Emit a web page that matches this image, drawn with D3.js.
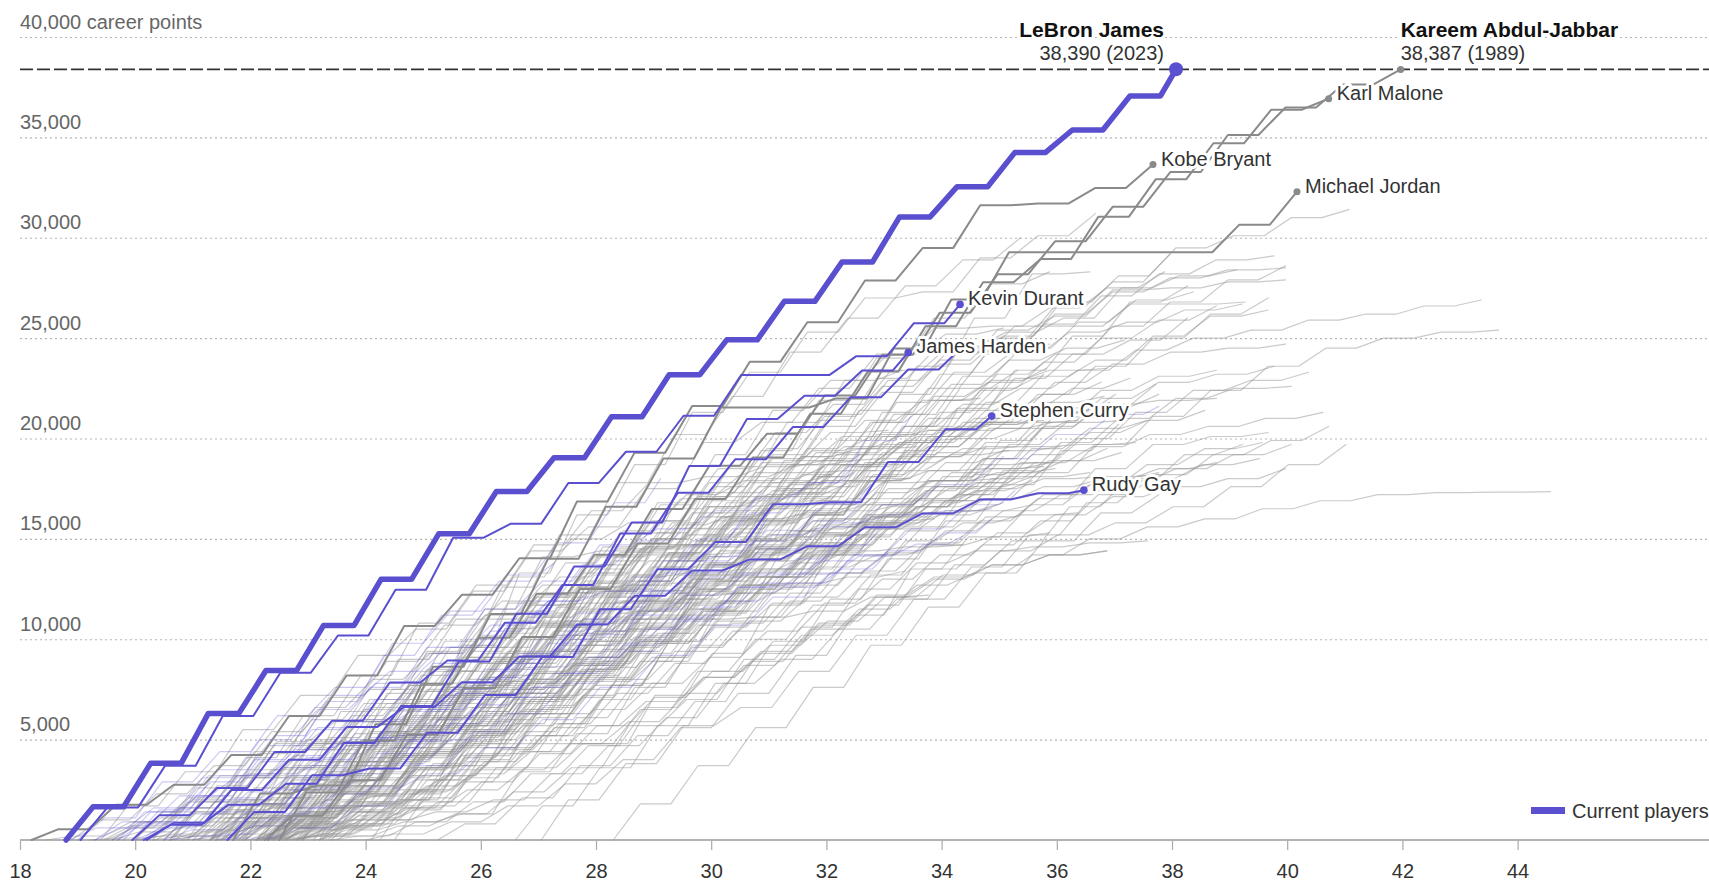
<!DOCTYPE html>
<html><head><meta charset="utf-8">
<script src="https://cdn.jsdelivr.net/npm/d3@7"></script>
<style>
body{margin:0;background:#fff;overflow:hidden}
text{font-family:"Liberation Sans",Arial,Helvetica,sans-serif}
</style>
</head><body>
<svg id="chart" width="1709" height="882"></svg>
<script>
// ---------- axis values ----------
const xTicks = [18,20,22,24,26,28,30,32,34,36,38,40,42,44];
const yTicks = [5000,10000,15000,20000,25000,30000,35000,40000];
const recordValue = 38387;

// ---------- highlighted players: start age (season opener), regular-season points per season ----------
const legendNames   = ["Kareem Abdul-Jabbar","Karl Malone","Kobe Bryant","Michael Jordan"];
const legendStart   = [22.5, 22.25, 18.2, 21.7];
const legendSeasons = [
  [2361,2596,2822,2292,2191,1949,2275,2152,1600,1903,2034,2095,1909,1643,1717,1735,1846,1366,1153,748],
  [1203,1779,2268,2326,2540,2382,2272,2217,2063,2187,2106,2249,2190,1164,2095,1878,1788,1667,554],
  [539,1220,996,1485,1938,2019,2461,1557,1819,2832,2430,2323,2201,1970,2078,1616,2133,83,782,1161],
  [2313,408,3041,2868,2633,2753,2580,2404,2541,0,457,2491,2431,2357,0,0,0,1375,1640]
];
const legendLabels  = ["", "Karl Malone", "Kobe Bryant", "Michael Jordan"];

const currentNames   = ["Kevin Durant","James Harden","Russell Westbrook","Stephen Curry","Rudy Gay"];
const currentStart   = [19.05, 20.15, 19.95, 21.6, 20.2];
const currentSeasons = [
  [1624,2079,2472,2161,1850,2280,2593,698,2029,1555,1792,2027,0,942,1643,935],
  [761,999,1044,2023,1851,2217,2376,2356,2191,2818,2335,1156,1257,900],
  [1239,1352,1793,1558,1903,1097,1886,1878,2558,2028,1675,1610,1484,1377,750],
  [1399,1825,336,1786,1873,1900,2375,1999,1346,1881,100,2015,1630,650],
  [859,1632,1506,1626,1005,1232,1280,1589,1432,1264,553,657,943,692,696,310,150]
];
const currentLabels  = ["Kevin Durant","James Harden","","Stephen Curry","Rudy Gay"];

const lebronStart   = 18.8;
const lebronSeasons = [1654,2175,2478,2132,2250,2304,2258,2111,1683,2036,2089,1743,1920,1954,2251,1505,1698,1126,1695,1328];

// ---------- other active players (points per season, hundreds) ----------
const otherActiveStart = [20.5,20.2,20.5,22.3,19.7,20.1,20.0,19.6,18.85,19.3,21.7,21.4,19.0,19.95,19.3,20.6,21.6,19.7,21.0,19.8];
const otherActiveSeasons = [
  [13,11,17,18,8,13,12,12,11,16,14,11,11,10,13,12,10,4],
  [7,14,11,15,18,10,18,20,18,16,16,15,21,12],
  [5,9,17,18,0.3,18,19,16,22,17,13,13,10],
  [16,17,17,20,20,18,21,21,20,8,14],
  [9,13,17,17,14,18,16,15,5,15,8,13],
  [9,11,16,13,3,21,15,12,12,10,10,0.4,9,6,4],
  [6,8,11,10,11,12,13,12,14,14,15,2,14,13,12,7],
  [8,14,18,15,21,20,19,14,18,8,9,10],
  [6,10,13,18,22,23,20,17,19,20,12],
  [9,13,10,10,18,18,22,19,18,12,7],
  [10,16,17,22,16,17,17,18,0,0,14,10],
  [1,5,11,20,17,22,15,14,11,12,11,8],
  [11,18,15,18,14,22,16,18,6],
  [15,20,17,20,12,12,17,3],
  [6,10,15,14,5,14,14,14,18,14,15,10,10,8],
  [2,5,9,10,7,13,14,16,16,15,14,12,11,9,7],
  [18,19,14,14,20,16,8,14,14,15,6,4,2,1],
  [14,17,19,15,13,15,14,12,8],
  [3,10,10,15,12,13,15,16,15,17,14,12],
  [14,18,1,7,10,10,11,12,15,12,9,7,9,8]
];

// ---------- former players (points per season, hundreds) ----------
const formerStart = [23.2,20.65,19.4,21.5,22.9,21.75,21.9,22.8,21.5,21.3,22.5,19.5,21.9,22.8,22.2,22.4,23.2,21.3,21.4,21.7,
  23.2,20.6,24.1,20.6,21.8,21.3,22.3,22.85,22.3,22.2,21.3,21.85,24.25,24.5,23.35,20.35,22.3,22.7,22.55,23.1,
  22.1,22.5,20.6,19.45,20.6,18.9,21.3,18.45,20.3,20.7,22.1,22.8,20.9,20.5,22.1,22.45,22.1,22.75,20.8,21.6,
  21.85,22.6,23.2,22.5,22.9,22.15,22.65,19.6,19.95,20.0,21.55,21.4,22.2,22.6,22.3,22.3,26.6,27.05,25.25,22.9,
  22.1,21.1,21.9,21.0,21.1,22.6,28.3,23.4,20.9,22.3,23.4,20.0,22.3,19.2,20.3,20.8,22.3,22.6,23.1,22.4,
  21.9,21.8,22.3,22.3,22.5,21.9,22.1,19.6,23.5,22.5,22.1,21.3,22.4,21.4,21.3,22.9,21.6,24.0,22.4,22.4,22.5,22.3,22.0];
const formerSeasons = [
  [27,30,40,36,29,25,26,20,20,17,3,17,11,11],
  [19,24,23,14,13,17,13,23,21,18,18,14,17,12,7,7,15,6,3],
  [17,17,21,17,20,13,19,20,12,19,23,10,17,17,13,1,9,10,8],
  [11,14,20,21,22,25,19,18,19,18,19,17,16,15,7,13,1,3,1],
  [23,23,24,20,17,17,19,16,19,17,17,19,14,13,11,4],
  [17,16,18,18,20,20,12,15,21,22,20,19,15,10,10,5,6,3],
  [21,24,28,26,27,26,26,24,19,22,17,16,13,11],
  [16,17,22,24,23,24,21,21,21,12,21,21,13,0,11,0,1],
  [18,12,19,18,21,19,15,14,16,19,16,16,16,13,10,14,12,11,7],
  [8,20,21,21,21,17,18,19,10,16,18,19,17,17,15,14,11,7,2],
  [11,16,17,20,19,21,20,22,22,22,23,19,18,16,12,14],
  [6,14,15,11,19,17,20,19,20,18,19,17,16,15,11,12,13,11,7,4,1],
  [9,20,21,12,16,19,22,20,20,18,16,13,11,8,9,10,6,4,5,3,4,3],
  [3,7,9,17,20,21,22,24,24,20,24,23,20,17,17,8],
  [8,16,19,18,19,17,17,16,17,17,17,17,10,14,14,14,12,8],
  [14,25,15,18,28,24,22,27,21,25,21,20,17,6],
  [10,14,18,22,24,22,20,19,20,19,18,18,7,8,12,10,3],
  [11,16,10,18,18,18,17,19,19,19,16,15,14,15,13,12,9,7],
  [18,17,14,20,21,16,22,15,23,22,21,21,14,2,1],
  [11,16,17,20,20,22,18,18,19,14,17,20,15,12,6,4],
  [7,9,13,15,17,17,18,15,16,15,14,14,13,14,14,13,12,9,5,3,1],
  [16,15,17,22,24,21,26,3,24,24,22,15,13,10,3],
  [20,27,28,18,28,26,24,20,23,22,24,22,1],
  [4,14,18,18,20,17,20,22,20,18,21,20,17,13,9,17,13,14,6,9,4],
  [12,20,22,14,11,23,21,20,15,15,14,11,17,15,12,7,11],
  [6,13,14,17,22,21,17,19,20,10,14,15,16,14,14],
  [6,8,11,14,15,17,18,18,16,19,19,18,17,12,12,8,4,4],
  [17,17,19,20,21,24,21,21,23,1,22,19,9],
  [9,10,17,19,16,18,19,17,20,17,19,15,12,7,2],
  [25,22,23,21,18,17,18,19,15,17,14,10,1],
  [14,17,17,14,15,11,15,15,14,13,14,11,14,14,14,12,7,3],
  [16,18,18,20,19,25,23,26,21,22,21,5],
  [20,21,16,18,24,26,21,1,15,12,16,15,11,11],
  [19,21,23,24,24,26,21,21,18,16,13],
  [17,18,17,21,14,19,19,19,21,17,9,14,13,3],
  [7,13,16,17,21,20,17,18,17,15,15,17,15,11,9,7],
  [13,14,19,14,18,13,16,20,23,21,16,9,11,2],
  [2,16,20,16,18,14,17,16,16,17,18,13,14,11,1],
  [5,6,6,12,14,14,14,13,13,12,12,11,12,8,6,8,10,11,10],
  [19,20,18,18,13,17,17,1,10,18,15,16,13,10,4],
  [12,20,21,20,18,24,17,20,17,13,10,9,9,7],
  [5,9,11,17,19,16,14,21,19,21,15,12,4,2],
  [14,18,17,17,19,16,21,20,17,17,14,13,1],
  [7,12,12,14,15,17,19,16,14,13,12,14,14,11,11,9,3,5],
  [2,5,10,13,13,14,14,17,15,15,13,12,13,13,15,14,12,10,5,1],
  [10,13,14,17,17,18,18,12,12,14,12,5,11,13,13,1,5,6],
  [7,14,14,14,17,14,17,17,16,15,17,22,17,13,8,6],
  [2,7,12,20,21,20,26,19,20,17,14,3,5,3,1],
  [2,7,16,14,17,18,12,17,17,16,3,14,15,11,11,16,10,6],
  [13,5,12,17,14,10,20,20,17,16,7,17,16,8,2],
  [16,16,19,17,17,21,25,2,2,0,17,11,1,3,10,10,8,3],
  [8,11,11,13,15,19,22,15,17,16,14,11,8],
  [19,16,16,17,16,19,20,19,0,1,11,16,24,14,0,1],
  [14,19,17,18,16,17,16,18,15,16,6,15,14,9],
  [6,11,14,15,17,16,15,16,15,16,16,9,12,14,11,6,5],
  [11,14,18,19,18,19,17,21,22,10,11,13,12,3],
  [6,8,11,10,0,13,11,14,14,15,13,12,6,9,8,6,4,5,4,3,1,0.3,0.2],
  [3,7,4,6,13,14,14,17,12,15,15,17,12,17,14,12,5],
  [5,13,18,18,18,16,16,21,18,17,15,12,11,8,10,9,5],
  [9,13,9,14,8,14,12,12,15,12,15,10,11,10,8,7,6,7,5],
  [12,17,24,23,20,25,20,17,15,14,9,6,4],
  [7,12,18,18,15,19,16,18,20,17,15,13,6,2],
  [5,4,4,21,19,23,21,12,12,13,13,12,11,15,12,4,2],
  [8,16,18,17,19,21,19,20,22,16,17,12,10,13,9,6,2,2],
  [7,9,16,14,17,17,14,14,15,16,15,18,16,12,13,11,5,4],
  [7,16,19,13,13,16,13,15,15,16,14,13,8,10,8,6,4,4,3],
  [13,14,17,19,14,18,17,17,15,12,10,9,8,6,4],
  [9,17,18,16,15,18,19,15,10,13,13,11,10],
  [11,16,21,0.3,16,20,21,18,20,12,11,6,6,2],
  [2,13,16,8,20,19,16,15,16,15,11,11,5],
  [20,28,0,0,0,0,0,24,21,24,25,21,18,18,14,9],
  [13,13,11,15,14,13,18,20,21,21,22,21,19,8,5,1],
  [12,15,15,15,16,14,14,16,14,14,17,14,11,1],
  [9,13,14,14,16,15,17,16,17,15,16,14,15],
  [14,1,17,22,24,21,20,22,16,5,17,12,5],
  [10,21,24,25,21,22,6,8,9,9,5],
  [17,19,21,21,21,21,20,19,18,17,13],
  [20,18,19,9,18,18,18,16,16,16,12,7,3],
  [8,13,16,15,17,20,16,12,18,12,12,13,10,10,7,7],
  [16,23,18,25,18,16,18,19,18,16,12],
  [12,14,15,16,16,17,20,21,19,20,16,12,8],
  [11,25,28,26,20,21,19,8,14,7,12,4,1],
  [10,15,17,16,17,19,19,19,17,15,15,13,12,9],
  [13,13,17,17,16,15,16,20,20,17,11,8],
  [9,12,18,19,17,13,14,12,18,10,9,1],
  [8,10,9,12,13,18,19,20,17,19,13,11,12,10],
  [18,19,19,20,21,19,17,16,14,9],
  [2,7,10,14,14,19,15,13,14,14,9,6,5,2],
  [11,5,4,3,9,13,13,15,15,16,15,14,16,9,4,1],
  [6,4,6,9,11,12,17,19,16,17,15,16,13,11,8,3],
  [12,18,23,17,15,14,16,20,18,14,9,9,3],
  [14,18,17,10,16,21,22,20,16,16,11,6,2],
  [7,11,18,15,18,16,15,19,12,13,11,8,7,6,4,5,3],
  [1,2,14,15,17,19,16,16,14,18,17,11,3,4,3,4],
  [16,16,15,15,15,20,20,1,1,10,11,8,10,8,4,3],
  [1,7,16,17,20,15,19,13,10,14,16,16,3],
  [2,5,8,16,21,20,21,17,1,3,7,1],
  [2,11,17,16,17,17,18,15,14,15,13,9,4],
  [2,5,6,11,12,21,13,20,16,19,13,6,2,2,1],
  [10,12,14,16,17,16,16,13,11,11,6,5,4,2],
  [11,17,15,18,16,29,21,14,14,12,12,9,7,1,1,1],
  [17,17,20,17,18,19,21,17,15,6,1],
  [3,14,15,17,16,16,18,19,16,8],
  [13,17,21,20,2,11,15,16,16,15,15,13],
  [14,9,13,18,17,20,19,19,10,9,9,5,5],
  [1,5,11,20,23,22,22,16,7,1,3,3],
  [1,5,14,17,21,22,16,19,12,15,13,11,8,5],
  [4,5,17,13,20,16,18,14,17,17,18,7,5],
  [8,13,15,16,13,13,13,13,14,12,12,11,9,9,5,4,5],
  [11,16,19,18,20,17,18,17,16,15,11,1,1],
  [8,16,16,14,16,17,18,15,13,13,12,11,7,5,2],
  [15,15,16,15,15,16,13,10,13,12,12,9,7,7,5,1,1],
  [6,8,10,9,11,13,12,12,12,14,14,9,7,5,2],
  [3,9,11,12,13,17,17,16,16,17,13,14,11,11,9,6],
  [19,18,22,18,19,18,19,20,18,12,11,7,3,3,5,5,2,1],
  [16,21,19,17,21,16,13,8,7,6,2,1],
  [11,14,16,19,21,27,20,19,18,13,4],
  [3,6,8,11,12,16,17,19,20,23,16,14],
  [20,19,18,20,6,8,15,18,18,18,13,6,8],
  [9,14,18,17,18,18,20,18,17,8,2,1],
  [18,21,18,20,17,27,24,21,14,6],
  [4,4,15,20,20,20,19,22,19,20,16,5,1,1],
  [7,22,23,24,17,14,12,7,15,13,6,10]
];

// ---------- style constants ----------
const W = 1709, H = 882;
const SEASON = 0.47;     // regular season length (years)
const PARTIAL = 0.27;    // 2022-23 season through Feb. 7, 2023
const PURPLE = "#5a4fcf";
const DARK = "#8a8a8a";

const svg = d3.select("#chart");
svg.append("rect").attr("width", W).attr("height", H).attr("fill", "#fff");

const x = d3.scaleLinear().domain([18, 44]).range([20, 1517.6]);
const y = d3.scaleLinear().domain([0, 40000]).range([840, 37]);

// step path: flat between seasons, rising during each regular season
function careerPoints(start, seasons, scale, active) {
  const pts = [[start, 0]];
  let cum = 0;
  seasons.forEach((p, i) => {
    const s = start + i;
    pts.push([s, cum]);
    cum += p * scale;
    const d = (active && i === seasons.length - 1) ? PARTIAL : SEASON;
    pts.push([s + d, cum]);
  });
  return pts;
}
const line = d3.line().x(d => x(d[0])).y(d => y(d[1]));

// ---------- y grid + labels ----------
const yAxis = d3.axisRight(y).tickValues(yTicks).tickSize(W - 20)
  .tickFormat(d => d === 40000 ? "40,000 career points" : d3.format(",")(d));
const gy = svg.append("g").attr("transform", "translate(20,0)").call(yAxis);
gy.select(".domain").remove();
gy.selectAll(".tick line").attr("stroke", "#b5b5b5").attr("stroke-width", 1.2).attr("stroke-dasharray", "2,3");
gy.selectAll(".tick text").attr("x", 0).attr("y", -9).attr("dy", 0)
  .attr("text-anchor", "start").attr("fill", "#666").style("font-size", "20px");

// record line
svg.append("line").attr("x1", 20).attr("x2", W).attr("y1", y(recordValue)).attr("y2", y(recordValue))
  .attr("stroke", "#333").attr("stroke-width", 1.6).attr("stroke-dasharray", "13,4");

// ---------- x axis ----------
const xAxis = d3.axisBottom(x).tickValues(xTicks).tickSize(10).tickPadding(14).tickFormat(d3.format("d"));
const gx = svg.append("g").attr("transform", `translate(0,${y(0)})`).call(xAxis);
gx.select(".domain").remove();
gx.selectAll(".tick line").attr("stroke", "#aaa").attr("stroke-width", 1.2);
gx.selectAll(".tick text").attr("fill", "#333").style("font-size", "20px");
svg.append("line").attr("x1", 20).attr("x2", W).attr("y1", y(0)).attr("y2", y(0))
  .attr("stroke", "#b3b3b3").attr("stroke-width", 2.2);

const lines = svg.append("g").attr("fill", "none").attr("stroke-linejoin", "round").attr("stroke-linecap", "round");

// former players
lines.append("g").selectAll("path").data(formerSeasons).join("path")
  .attr("d", (s, i) => line(careerPoints(formerStart[i], s, 100, false)))
  .attr("stroke", "#959595").attr("stroke-opacity", 0.5).attr("stroke-width", 1.2);

// other active players
lines.append("g").selectAll("path").data(otherActiveSeasons).join("path")
  .attr("d", (s, i) => line(careerPoints(otherActiveStart[i], s, 100, true)))
  .attr("stroke", PURPLE).attr("stroke-opacity", 0.3).attr("stroke-width", 1.2);

// legends (top scorers)
const legendPts = legendSeasons.map((s, i) => careerPoints(legendStart[i], s, 1, false));
lines.append("g").selectAll("path").data(legendPts).join("path")
  .attr("d", line).attr("stroke", DARK).attr("stroke-width", 2);

// current players
const currentPts = currentSeasons.map((s, i) => careerPoints(currentStart[i], s, 1, true));
lines.append("g").selectAll("path").data(currentPts).join("path")
  .attr("d", line).attr("stroke", PURPLE).attr("stroke-width", 2);

// LeBron
const lebronPts = careerPoints(lebronStart, lebronSeasons, 1, true);
lines.append("path").attr("d", line(lebronPts)).attr("stroke", PURPLE).attr("stroke-width", 5.5);

// end dots
const dots = svg.append("g");
legendPts.forEach(p => { const e = p[p.length - 1];
  dots.append("circle").attr("cx", x(e[0])).attr("cy", y(e[1])).attr("r", 3.5).attr("fill", DARK); });
currentPts.forEach((p, i) => { if (!currentLabels[i]) return; const e = p[p.length - 1];
  dots.append("circle").attr("cx", x(e[0])).attr("cy", y(e[1])).attr("r", 3.8).attr("fill", PURPLE); });
const lbEnd = lebronPts[lebronPts.length - 1];
dots.append("circle").attr("cx", x(lbEnd[0])).attr("cy", y(lbEnd[1])).attr("r", 7).attr("fill", PURPLE);

// ---------- labels ----------
const labels = svg.append("g").style("font-size", "20px").attr("fill", "#333")
  .attr("stroke", "#fff").attr("stroke-width", 6).attr("stroke-linejoin", "round").attr("paint-order", "stroke");
function endLabel(pts, txt) {
  const e = pts[pts.length - 1];
  labels.append("text").attr("x", x(e[0]) + 8).attr("y", y(e[1]) + 1).text(txt);
}
legendPts.forEach((p, i) => { if (legendLabels[i]) endLabel(p, legendLabels[i]); });
currentPts.forEach((p, i) => { if (currentLabels[i]) endLabel(p, currentLabels[i]); });

const kEnd = legendPts[0][legendPts[0].length - 1];
labels.append("text").attr("x", x(lbEnd[0]) - 12).attr("y", y(40000)).attr("text-anchor", "end")
  .attr("fill", "#111").style("font-weight", "bold").style("font-size", "21px").text("LeBron James");
labels.append("text").attr("x", x(lbEnd[0]) - 12).attr("y", y(40000) + 23).attr("text-anchor", "end")
  .text(d3.format(",")(d3.sum(lebronSeasons)) + " (2023)");
labels.append("text").attr("x", x(kEnd[0])).attr("y", y(40000)).attr("text-anchor", "start")
  .attr("fill", "#111").style("font-weight", "bold").style("font-size", "21px").text("Kareem Abdul-Jabbar");
labels.append("text").attr("x", x(kEnd[0])).attr("y", y(40000) + 23).attr("text-anchor", "start")
  .text(d3.format(",")(recordValue) + " (1989)");

// legend
svg.append("rect").attr("x", 1531).attr("y", 807).attr("width", 34).attr("height", 7).attr("fill", PURPLE);
svg.append("text").attr("x", 1572).attr("y", 818).attr("fill", "#333").style("font-size", "20px").text("Current players");
</script>
</body></html>
